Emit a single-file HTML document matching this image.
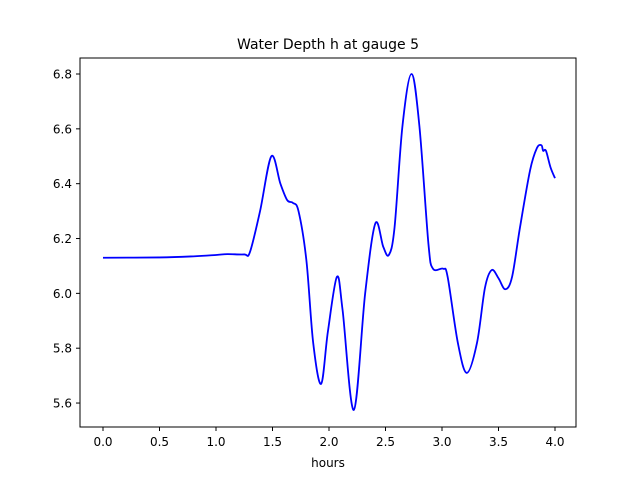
<!DOCTYPE html>
<html><head><meta charset="utf-8"><style>
body{margin:0;background:#fff}
svg text{font-family:"DejaVu Sans","Liberation Sans",sans-serif;fill:#000}
</style></head><body>
<svg id="chart" width="640" height="480" xmlns="http://www.w3.org/2000/svg">
<rect width="640" height="480" fill="#fff"/>
<text x="328" y="49" font-size="14" text-anchor="middle">Water Depth h at gauge 5</text>
<text x="328" y="467" font-size="12" text-anchor="middle">hours</text>
<g id="axes"></g>
<path id="series" fill="none" stroke="#0000ff" stroke-width="1.8"/>
<rect x="80" y="58" width="496" height="369" fill="none" stroke="#000" stroke-width="1"/>
</svg>
<script>
const times=[0,0.5,0.8,1.0,1.1,1.25,1.30,1.39,1.49,1.57,1.63,1.68,1.73,1.80,1.86,1.93,1.99,2.07,2.12,2.22,2.32,2.41,2.48,2.53,2.58,2.65,2.73,2.80,2.88,2.92,3.01,3.05,3.14,3.22,3.31,3.38,3.44,3.50,3.56,3.62,3.69,3.78,3.84,3.88,3.895,3.92,3.96,4.0];
const depths=[6.13,6.131,6.135,6.14,6.143,6.142,6.15,6.30,6.50,6.40,6.34,6.33,6.30,6.12,5.82,5.67,5.86,6.06,5.94,5.575,6.0,6.255,6.17,6.14,6.24,6.61,6.80,6.61,6.18,6.09,6.09,6.06,5.82,5.71,5.82,6.02,6.085,6.055,6.015,6.06,6.24,6.45,6.53,6.54,6.52,6.52,6.46,6.42];
const xTicks=[0,0.5,1.0,1.5,2.0,2.5,3.0,3.5,4.0];
const yTicks=[5.6,5.8,6.0,6.2,6.4,6.6,6.8];
const X=t=>103+t*113, Y=v=>74+(6.8-v)*274.2;
const NS="http://www.w3.org/2000/svg", ax=document.getElementById('axes');
xTicks.forEach(t=>{
 const l=document.createElementNS(NS,'line');
 l.setAttribute('x1',X(t));l.setAttribute('x2',X(t));l.setAttribute('y1',427);l.setAttribute('y2',431);l.setAttribute('stroke','#000');
 
 
 ax.appendChild(l);
 const s=document.createElementNS(NS,'text');
 s.setAttribute('x',X(t));s.setAttribute('y',446);s.setAttribute('font-size','12');s.setAttribute('text-anchor','middle');s.textContent=t.toFixed(1);
 
 
 ax.appendChild(s);
});
yTicks.forEach(v=>{
 const l=document.createElementNS(NS,'line');
 l.setAttribute('x1',76);l.setAttribute('x2',80);l.setAttribute('y1',Y(v));l.setAttribute('y2',Y(v));l.setAttribute('stroke','#000');
 
 
 ax.appendChild(l);
 const s=document.createElementNS(NS,'text');
 s.setAttribute('x',72);s.setAttribute('y',Y(v)+4.5);s.setAttribute('font-size','12');s.setAttribute('text-anchor','end');s.textContent=v.toFixed(1);
 
 
 ax.appendChild(s);
});
const P=times.map((t,i)=>[X(t),Y(depths[i])]);
let d='M'+P[0][0]+','+P[0][1];
for(let i=0;i<P.length-1;i++){
 const p0=P[Math.max(0,i-1)],p1=P[i],p2=P[i+1],p3=P[Math.min(P.length-1,i+2)];
 const c1=[p1[0]+(p2[0]-p0[0])/6,p1[1]+(p2[1]-p0[1])/6];
 const c2=[p2[0]-(p3[0]-p1[0])/6,p2[1]-(p3[1]-p1[1])/6];
 d+=` C${c1[0]},${c1[1]} ${c2[0]},${c2[1]} ${p2[0]},${p2[1]}`;
}
document.getElementById('series').setAttribute('d',d);
</script>
</body></html>
